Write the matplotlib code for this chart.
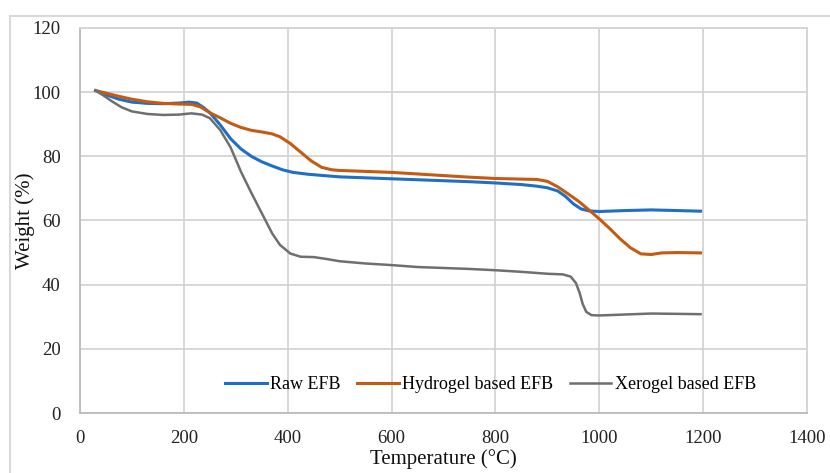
import matplotlib
matplotlib.use("Agg")
import matplotlib.pyplot as plt
from matplotlib.lines import Line2D

raw_T = [30, 50, 75, 100, 130, 160, 190, 210, 225, 238, 250, 270, 290, 310, 330, 350, 370, 390, 410, 440, 470,
         500, 550, 600, 650, 700, 750, 800, 850, 880, 900, 920, 935, 950, 965, 980, 1000, 1050, 1100, 1150, 1195]
raw_W = [100.5, 99.2, 97.8, 96.9, 96.5, 96.4, 96.6, 96.9, 96.6, 95.2, 93.6, 89.8, 85.5, 82.3, 80.0, 78.3, 77.0, 75.8, 75.0, 74.4, 74.0,
         73.6, 73.3, 73.0, 72.7, 72.4, 72.1, 71.7, 71.2, 70.7, 70.2, 69.2, 67.5, 65.2, 63.6, 63.0, 62.8, 63.1, 63.3, 63.1, 62.9]

hyd_T = [30, 50, 75, 100, 130, 160, 190, 215, 232, 250, 270, 290, 310, 330, 350, 370, 385, 405, 425, 445, 465, 485, 500,
         550, 600, 650, 700, 750, 800, 850, 880, 900, 920, 940, 960, 980, 1000, 1020, 1040, 1060, 1080, 1100, 1120, 1150, 1195]
hyd_W = [100.5, 99.7, 98.7, 97.8, 97.0, 96.5, 96.3, 96.2, 95.4, 93.6, 92.0, 90.3, 89.0, 88.1, 87.6, 87.0, 86.1, 84.0, 81.3, 78.6, 76.6, 75.8, 75.6,
         75.3, 75.0, 74.5, 74.0, 73.5, 73.1, 72.9, 72.8, 72.2, 70.5, 68.3, 66.0, 63.3, 60.5, 57.5, 54.3, 51.5, 49.6, 49.4, 49.9, 50.0, 49.9]

xer_T = [30, 45, 60, 80, 100, 130, 160, 190, 215, 235, 250, 270, 290, 310, 330, 350, 370, 385, 405, 425, 450, 475,
         500, 550, 600, 650, 700, 750, 800, 850, 900, 930, 945, 955, 962, 968, 975, 985, 1000, 1050, 1100, 1150, 1195]
xer_W = [100.5, 99.0, 97.3, 95.3, 94.0, 93.2, 92.9, 93.0, 93.4, 93.0, 91.9, 88.2, 82.8, 75.2, 68.6, 62.3, 56.0, 52.4, 49.7, 48.7, 48.6, 48.0,
         47.3, 46.6, 46.1, 45.5, 45.2, 44.9, 44.5, 44.0, 43.4, 43.2, 42.5, 40.5, 37.5, 34.0, 31.5, 30.5, 30.4, 30.7, 31.0, 30.9, 30.8]

labels = ["Raw EFB", "Hydrogel based EFB", "Xerogel based EFB"]
colors = ["#1f6fc6", "#c55a11", "#6f6f6f"]

x_ticks = [0, 200, 400, 600, 800, 1000, 1200, 1400]
y_ticks = [0, 20, 40, 60, 80, 100, 120]

plt.rcParams['font.family'] = ['Liberation Serif', 'DejaVu Serif']

fig = plt.figure(figsize=(8.3, 4.73), dpi=100)
ax = fig.add_axes([80/830, 60/473, 727/830, 385/473])

ax.plot(raw_T, raw_W, color=colors[0], lw=2.2, label=labels[0], solid_joinstyle='round')
ax.plot(hyd_T, hyd_W, color=colors[1], lw=2.2, label=labels[1], solid_joinstyle='round')
ax.plot(xer_T, xer_W, color=colors[2], lw=1.8, label=labels[2], solid_joinstyle='round')

ax.set_xlim(0, 1400)
ax.set_ylim(0, 120)
ax.set_xticks(x_ticks)
ax.set_yticks(y_ticks)
ax.grid(True, color="#d4d4d4", lw=1.3)
ax.set_axisbelow(True)
ax.tick_params(length=0, labelsize=13.5, colors="#222222")
ax.tick_params(axis='y', pad=14)
ax.tick_params(axis='x', pad=12)
for s in ax.spines.values():
    s.set_color("#d4d4d4")
    s.set_linewidth(1.3)
ax.spines['left'].set_color("#bcbcbc")
ax.spines['bottom'].set_color("#bcbcbc")

ax.set_xlabel("Temperature (°C)", fontsize=15, labelpad=2, color="#111111")
ax.set_ylabel("Weight (%)", fontsize=15, color="#111111")
ax.yaxis.label.set_va('center')
ax.yaxis.set_label_coords(-55/727, 0.5)

leg = ax.legend(loc='center', bbox_to_anchor=(0.565, 0.073), ncol=3, frameon=False,
                fontsize=13, handlelength=2.3, handletextpad=0.2, columnspacing=0.9)

# figure border lines
fig.add_artist(Line2D([10/830, 1.0], [1 - 16/473, 1 - 16/473], color="#d9d9d9", lw=1.5))
fig.add_artist(Line2D([10/830, 10/830], [0, 1 - 16/473], color="#d9d9d9", lw=1.5))

fig.savefig("out.png", dpi=100)
